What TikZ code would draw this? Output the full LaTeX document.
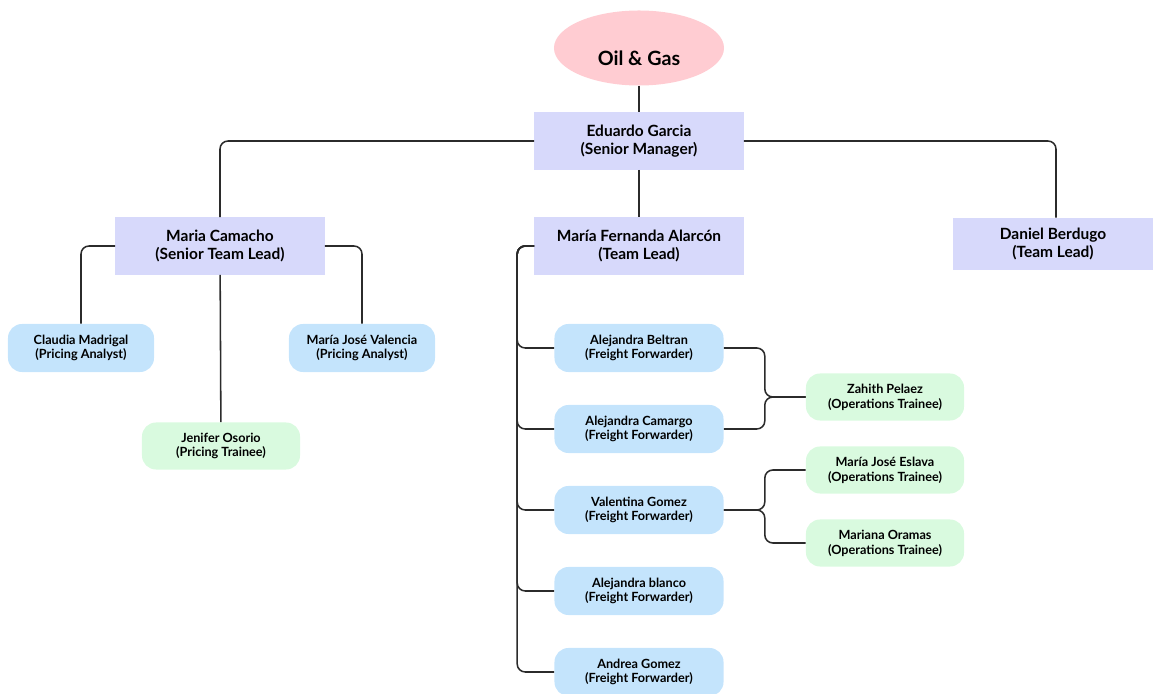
\documentclass[tikz,border=0pt]{standalone}
\usepackage{fontspec}
\setmainfont{Lato}
\usepackage{xcolor}
\usepackage{tikz}
\usetikzlibrary{shapes,positioning,calc}

\definecolor{rootpink}{HTML}{FFCCD2}
\definecolor{leadblue}{HTML}{D7D9FB}
\definecolor{staffblue}{HTML}{C4E4FC}
\definecolor{traingreen}{HTML}{D9FADF}
\definecolor{linegray}{HTML}{2B2B2B}

\begin{document}
\begin{tikzpicture}[x=0.025cm, y=-0.025cm,
    rootnode/.style={ellipse, fill=rootpink, minimum width=4.25cm, minimum height=1.875cm,
        text height=0.9cm, text depth=0pt, font=\fontsize{14}{16}\selectfont\bfseries},
    leadbox/.style={rectangle, fill=leadblue, minimum width=5.225cm, minimum height=1.425cm,
        align=center, font=\fontsize{11}{12.5}\selectfont\bfseries},
    staffbox/.style={rectangle, rounded corners=0.35cm, fill=staffblue, minimum width=4.225cm,
        minimum height=1.2cm, align=center, font=\fontsize{9}{10.5}\selectfont\bfseries},
    trainbox/.style={rectangle, rounded corners=0.35cm, fill=traingreen, minimum width=3.95cm,
        minimum height=1.175cm, align=center, font=\fontsize{9}{10.5}\selectfont\bfseries},
    link/.style={draw=linegray, line width=1.1pt, rounded corners=0.2cm}]

    \useasboundingbox (0,0) rectangle (1153,694);

    % Top
    \node [rootnode] (root) at (639,48) {Oil \& Gas};
    \node [leadbox] (eduardo) at (639,141) {Eduardo Garcia\\(Senior Manager)};

    % Leads
    \node [leadbox] (camacho) at (220,246) {Maria Camacho\\(Senior Team Lead)};
    \node [leadbox] (fernanda) at (639,246) {María Fernanda Alarcón\\(Team Lead)};
    \node [leadbox, minimum width=5cm, minimum height=1.3cm] (berdugo) at (1053,244) {Daniel Berdugo\\(Team Lead)};

    % Camacho's team
    \node [staffbox, minimum width=3.65cm] (claudia) at (81,348) {Claudia Madrigal\\(Pricing Analyst)};
    \node [staffbox, minimum width=3.65cm] (valencia) at (362,348) {María José Valencia\\(Pricing Analyst)};
    \node [trainbox] (jenifer) at (221,446) {Jenifer Osorio\\(Pricing Trainee)};

    % Fernanda's team
    \node [staffbox] (beltran) at (639,348) {Alejandra Beltran\\(Freight Forwarder)};
    \node [staffbox] (camargo) at (639,429) {Alejandra Camargo\\(Freight Forwarder)};
    \node [staffbox] (valentina) at (639,510) {Valentina Gomez\\(Freight Forwarder)};
    \node [staffbox] (blanco) at (639,591) {Alejandra blanco\\(Freight Forwarder)};
    \node [staffbox] (andrea) at (639,672) {Andrea Gomez\\(Freight Forwarder)};

    % Trainees
    \node [trainbox] (zahith) at (885,397) {Zahith Pelaez\\(Operations Trainee)};
    \node [trainbox] (eslava) at (885,470) {María José Eslava\\(Operations Trainee)};
    \node [trainbox] (oramas) at (885,543) {Mariana Oramas\\(Operations Trainee)};

    % Links
    \draw [link] (root) -- (eduardo);
    \draw [link] (eduardo) -- (fernanda);
    \draw [link] (eduardo.west) -| (camacho.north);
    \draw [link] (eduardo.east) -| ([xshift=0.075cm]berdugo.north);
    \draw [link] (camacho.west) -| (claudia.north);
    \draw [link] (camacho.east) -| (valencia.north);
    \draw [link] (camacho) -- (jenifer);
    \foreach \c in {beltran,camargo,valentina,blanco,andrea}
        \draw [link] (fernanda.west) -- ++(-17,0) |- (\c.west);
    \draw [link] (beltran.east) -- ++(41,0) |- (zahith.west);
    \draw [link] (camargo.east) -- ++(41,0) |- (zahith.west);
    \draw [link] (valentina.east) -- ++(41,0) |- (eslava.west);
    \draw [link] (valentina.east) -- ++(41,0) |- (oramas.west);
\end{tikzpicture}
\end{document}
